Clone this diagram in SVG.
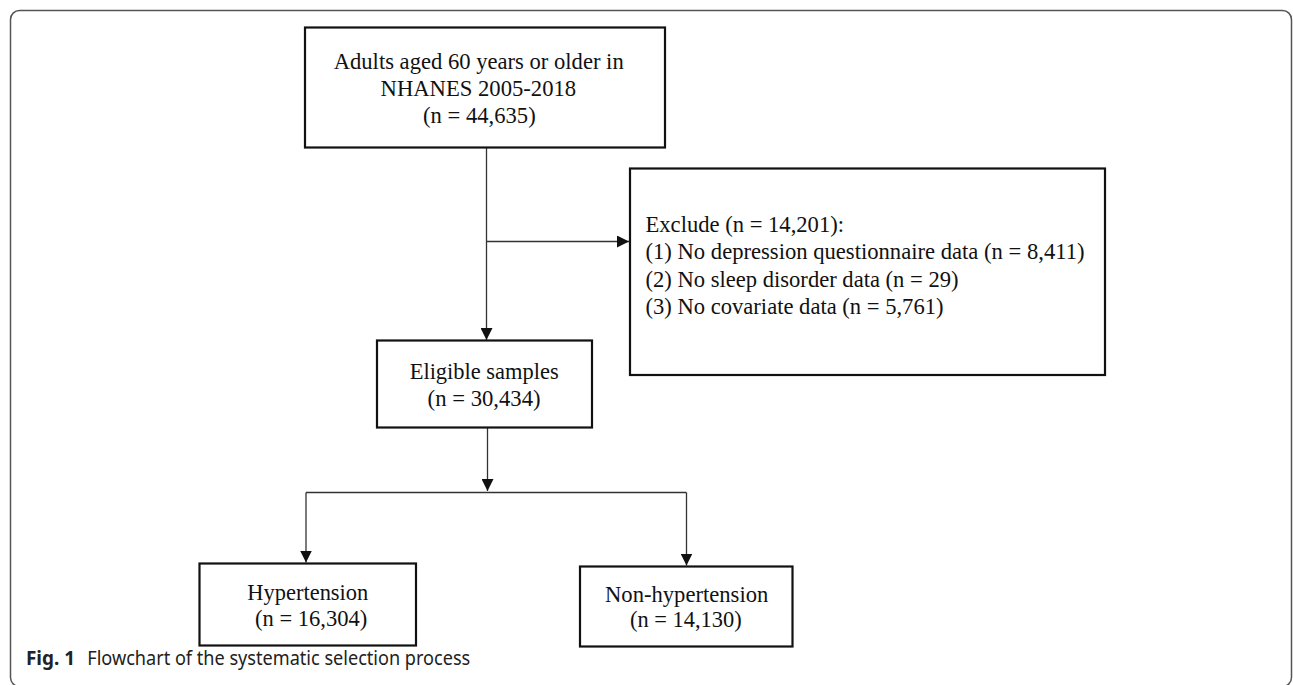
<svg xmlns="http://www.w3.org/2000/svg" width="1293" height="685" viewBox="0 0 1293 685">
  <style>
    .box { fill: #fff; stroke: #111; stroke-width: 2.2; }
    .t { font-family: "Liberation Serif", "Times New Roman", serif; font-size: 24px; fill: #111; }
    .conn { stroke: #333; stroke-width: 1.3; fill: none; }
    .cap { font-family: "Noto Sans", "Open Sans", sans-serif; font-size: 20px; fill: #222; }
  </style>
  <defs>
    <marker id="ah" markerUnits="userSpaceOnUse" markerWidth="12" markerHeight="12" refX="11" refY="5.5" orient="auto" viewBox="0 0 11 11">
      <path d="M0,0 L11,5.5 L0,11 z" fill="#111"/>
    </marker>
  </defs>
  <rect width="1293" height="685" fill="#fff"/>
  <rect id="frame" x="10.5" y="10.5" width="1281" height="676" rx="9" ry="9" fill="none" stroke="#555" stroke-width="1.5"/>

  <g id="connectors">
    <line class="conn" x1="486.5" y1="148" x2="486.5" y2="340" marker-end="url(#ah)"/>
    <line class="conn" x1="487" y1="241.5" x2="629" y2="241.5" marker-end="url(#ah)"/>
    <line class="conn" x1="487.5" y1="428" x2="487.5" y2="491" marker-end="url(#ah)"/>
    <polyline class="conn" points="306,492.5 686.5,492.5"/>
    <line class="conn" x1="306" y1="492.5" x2="306" y2="562.5" marker-end="url(#ah)"/>
    <line class="conn" x1="686.5" y1="492.5" x2="686.5" y2="565.5" marker-end="url(#ah)"/>
  </g>

  <g id="node-start">
    <rect class="box" x="305" y="27.5" width="360" height="120"/>
    <text class="t" x="333.7" y="68.5" textLength="290" lengthAdjust="spacingAndGlyphs">Adults aged 60 years or older in</text>
    <text class="t" x="380.6" y="96" textLength="195.5" lengthAdjust="spacingAndGlyphs">NHANES 2005-2018</text>
    <text class="t" x="423" y="123" textLength="112.7" lengthAdjust="spacingAndGlyphs">(n = 44,635)</text>
  </g>

  <g id="node-exclude">
    <rect class="box" x="630" y="168.5" width="475" height="206.5"/>
    <text class="t" x="645.5" y="231.7" textLength="198.5" lengthAdjust="spacingAndGlyphs">Exclude (n = 14,201):</text>
    <text class="t" x="645.5" y="259" textLength="439" lengthAdjust="spacingAndGlyphs">(1) No depression questionnaire data (n = 8,411)</text>
    <text class="t" x="645.5" y="286.7" textLength="313" lengthAdjust="spacingAndGlyphs">(2) No sleep disorder data (n = 29)</text>
    <text class="t" x="645.5" y="314" textLength="298" lengthAdjust="spacingAndGlyphs">(3) No covariate data (n = 5,761)</text>
  </g>

  <g id="node-eligible">
    <rect class="box" x="377" y="340.5" width="215" height="87"/>
    <text class="t" x="409.7" y="379" textLength="149" lengthAdjust="spacingAndGlyphs">Eligible samples</text>
    <text class="t" x="427.6" y="406" textLength="113" lengthAdjust="spacingAndGlyphs">(n = 30,434)</text>
  </g>

  <g id="node-hypertension">
    <rect class="box" x="199.5" y="563.5" width="216.5" height="82"/>
    <text class="t" x="247.3" y="600" textLength="121" lengthAdjust="spacingAndGlyphs">Hypertension</text>
    <text class="t" x="255" y="626" textLength="112.3" lengthAdjust="spacingAndGlyphs">(n = 16,304)</text>
  </g>

  <g id="node-nonhypertension">
    <rect class="box" x="580" y="566.5" width="212.5" height="80"/>
    <text class="t" x="605" y="601.7" textLength="163.3" lengthAdjust="spacingAndGlyphs">Non-hypertension</text>
    <text class="t" x="630" y="627" textLength="111.7" lengthAdjust="spacingAndGlyphs">(n = 14,130)</text>
  </g>

  <g id="caption">
    <text class="cap" x="26" y="665" font-weight="bold" textLength="49" lengthAdjust="spacingAndGlyphs">Fig. 1</text>
    <text class="cap" x="87.3" y="665" textLength="383" lengthAdjust="spacingAndGlyphs">Flowchart of the systematic selection process</text>
  </g>
</svg>
